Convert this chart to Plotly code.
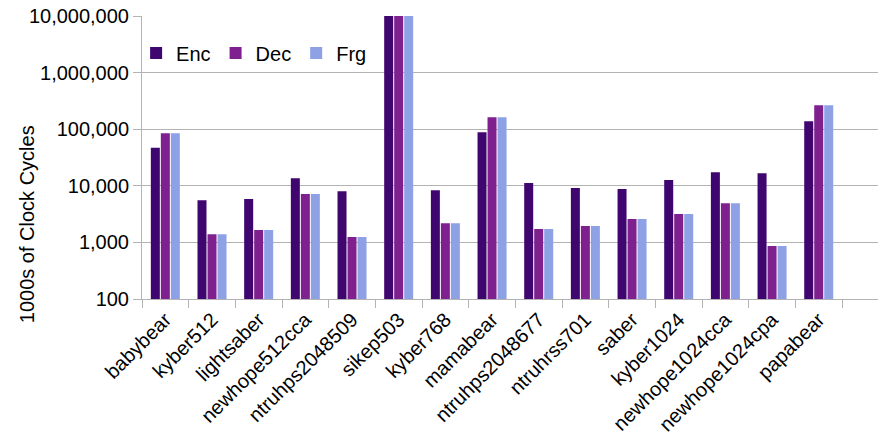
import plotly.graph_objects as go

# KEM schemes benchmarked (x axis)
schemes = [
    "babybear", "kyber512", "lightsaber", "newhope512cca", "ntruhps2048509",
    "sikep503", "kyber768", "mamabear", "ntruhps2048677", "ntruhrss701",
    "saber", "kyber1024", "newhope1024cca", "newhope1024cpa", "papabear",
]

# Thousands of clock cycles per operation
enc_cycles = [46800, 5580, 5820, 13650, 8050, 12000000, 8380, 88500,
              11150, 9100, 8740, 12600, 17400, 16700, 138000]
dec_cycles = [85000, 1400, 1650, 7130, 1240, 12500000, 2190, 163000,
              1720, 1940, 2580, 3160, 4940, 861, 265000]
frg_cycles = [85000, 1400, 1650, 7130, 1240, 12500000, 2190, 163000,
              1720, 1940, 2580, 3160, 4940, 861, 265000]

# Log-axis gridline values
y_ticks = [100, 1000, 10000, 100000, 1000000, 10000000]
y_tick_text = [f"{v:,}" for v in y_ticks]

series = [
    ("Enc", enc_cycles, "#40066f"),
    ("Dec", dec_cycles, "#7e218e"),
    ("Frg", frg_cycles, "#8ea1e4"),
]

font_family = "Liberation Sans, Arial, sans-serif"

fig = go.Figure()
for name, vals, color in series:
    fig.add_trace(go.Bar(
        name=name, x=schemes, y=vals,
        marker=dict(color=color, line=dict(width=0)),
    ))

fig.update_layout(
    width=878, height=442,
    margin=dict(l=142, r=0, t=16, b=143),
    paper_bgcolor="white", plot_bgcolor="white",
    barmode="group", bargap=0.357, bargroupgap=0.1,
    font=dict(family=font_family, size=20, color="#000000"),
    legend=dict(
        orientation="h", x=-0.008, xanchor="left", y=0.869, yanchor="middle",
        bgcolor="rgba(0,0,0,0)", font=dict(size=20),
    ),
    xaxis=dict(
        type="category", range=[-0.5, 15.27],
        tickson="boundaries", ticks="outside", ticklen=8, tickcolor="#b3b3b3",
        tickangle=-45, showline=True, linecolor="#b3b3b3", linewidth=1,
        showgrid=False, tickfont=dict(size=20),
    ),
    yaxis=dict(
        type="log", range=[2, 7],
        tickvals=y_ticks, ticktext=y_tick_text,
        ticks="outside", ticklen=8, tickcolor="#b3b3b3",
        showline=True, linecolor="#b3b3b3", linewidth=1,
        showgrid=True, gridcolor="#b3b3b3", gridwidth=1,
        zeroline=False, tickfont=dict(size=20),
    ),
    annotations=[dict(
        text="1000s of Clock Cycles", xref="paper", yref="paper",
        x=-0.156, y=0.265, xanchor="center", yanchor="middle",
        textangle=-90, showarrow=False, font=dict(size=20),
    )],
)

fig.write_html("out.html")
